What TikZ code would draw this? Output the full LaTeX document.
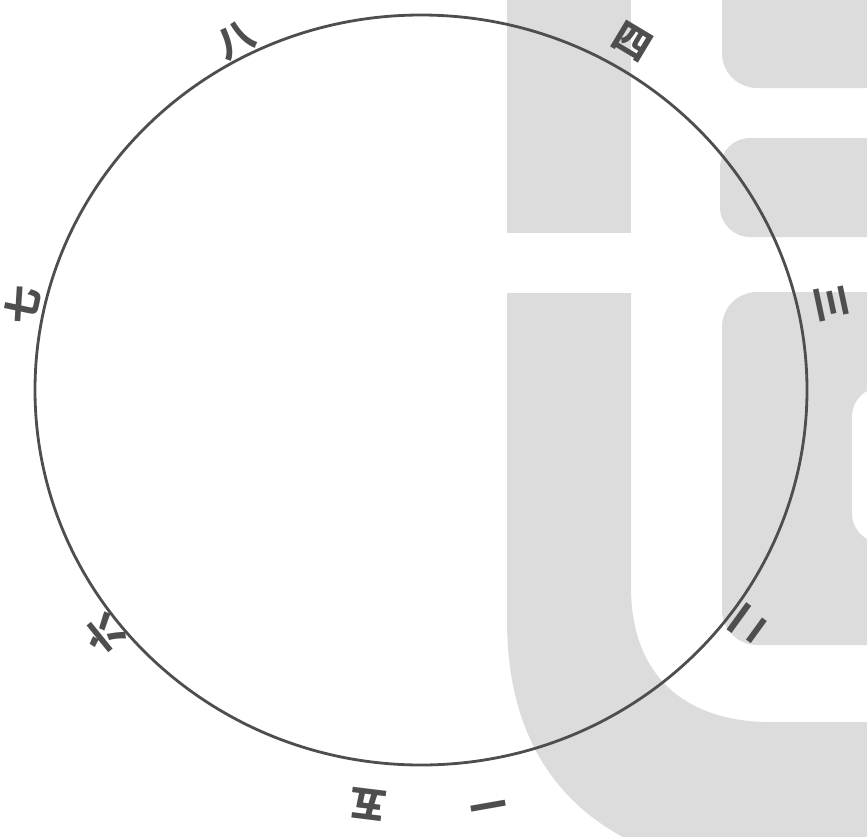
\documentclass[tikz,border=0pt]{standalone}
\usepackage{fontspec}
\newfontfamily\cjk{Noto Sans CJK SC}
\usetikzlibrary{positioning}
\definecolor{Ink}{HTML}{4E4E4E}
\definecolor{Wash}{HTML}{DCDCDC}

\begin{document}
\begin{tikzpicture}[x=0.03cm,y=-0.03cm,
    numeral/.style={text=Ink,inner sep=0pt,font=\cjk\bfseries\fontsize{32}{34}\selectfont}]
    \useasboundingbox (0,0) rectangle (867,836);

    % faint letters behind the sheet
    \begin{scope}
      \clip (0,0) rectangle (867,836);
      \fill[Wash] (507,-40) rectangle (631,233);
      \fill[Wash] (507,293) -- (507,620) .. controls (507,745) and (565,815) .. (650,850)
        -- (900,850) -- (900,722) -- (770,722) .. controls (690,722) and (631,680) .. (631,587)
        -- (631,293) -- cycle;
      \fill[Wash,rounded corners=1.05cm] (722,-60) rectangle (920,88);
      \fill[Wash,rounded corners=0.9cm] (720,138) rectangle (920,237);
      \fill[Wash,rounded corners=1.05cm] (722,292) rectangle (920,645);
      \fill[white,rounded corners=0.9cm] (852,387) rectangle (920,543);
    \end{scope}

    \draw[Ink,line width=2.4pt] (421,390) ellipse [x radius=386,y radius=375];

    \node[numeral,rotate=190] (one) at (488,800) {一};
    \node[numeral,rotate=-126] (two) at (748,624) {二};
    \node[numeral,rotate=-78] (three) at (832,303) {三};
    \node[numeral,rotate=-31] (four) at (632,42) {四};
    \node[numeral,rotate=173] (five) at (368,805) {五};
    \node[numeral,rotate=129] (six) at (104,634) {六};
    \node[numeral,rotate=78] (seven) at (22,305) {七};
    \node[numeral,rotate=28] (eight) at (236,40) {八};
\end{tikzpicture}
\end{document}
